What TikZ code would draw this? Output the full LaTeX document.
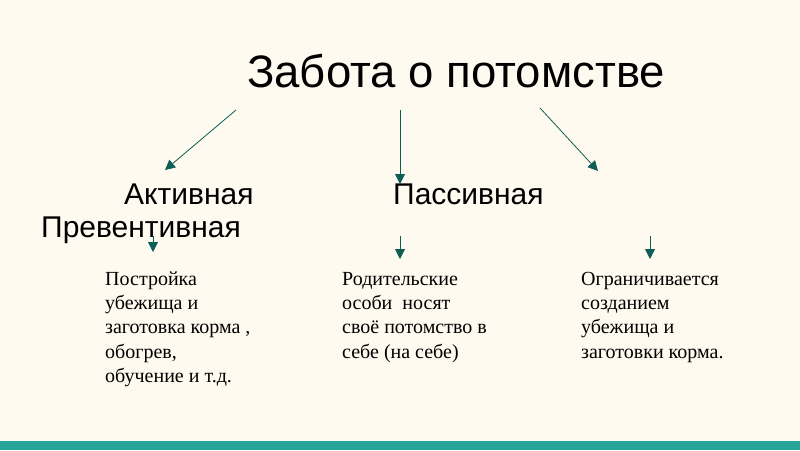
\documentclass[tikz,border=0pt]{standalone}
\usepackage{fontspec}
\setmainfont{Liberation Serif}
\newfontfamily\headfont{Liberation Sans}
\usetikzlibrary{arrows.meta}
\definecolor{cream}{HTML}{FFFAEF}
\definecolor{tealbar}{HTML}{27A599}
\definecolor{arrowgreen}{HTML}{0D5F55}
\tikzset{
	head/.style={anchor=base west, inner sep=0pt, font=\headfont\fontsize{30}{32}\selectfont},
	body/.style={anchor=base west, inner sep=0pt, align=left, font=\fontsize{20}{24.4}\selectfont},
	pointer/.style={color=arrowgreen, line width=0.8pt, -{Triangle[width=10pt,length=10pt]}}
}

\begin{document}
\begin{tikzpicture}[x=1pt, y=-1pt]
	%%%%% START %%%%%
	
	\fill[cream] (0, 0) rectangle (800, 450);
	\useasboundingbox (0, 0) rectangle (800, 450);
	\fill[tealbar] (0, 441) rectangle (800, 450);
	
	\node[head, font=\headfont\fontsize{45.5}{48}\selectfont] (title) at (247, 87) {Забота о потомстве};
	
	\node[head] (active) at (124, 204) {Активная};
	\node[head] (passive) at (393, 204) {Пассивная};
	\node[head] (prevent) at (41, 237) {Превентивная};
	
	% base anchor sits on the last line
	\node[body] (build) at (105, 382.6) {Постройка\\убежища и\\заготовка корма ,\\обогрев,\\обучение и т.д.};
	\node[body] (carry) at (342, 358.2) {Родительские\\особи~ носят\\своё потомство в\\себе (на себе)};
	\node[body] (shelter) at (581, 358.2) {Ограничивается\\созданием\\убежища и\\заготовки корма.};
	
	\coordinate (t1) at (236, 110);
	\coordinate (t2) at (400, 110);
	\coordinate (t3) at (540, 108);
	\coordinate (e1) at (165, 170);
	\coordinate (e2) at (400, 184);
	\coordinate (e3) at (598, 171);
	\draw[pointer] (t1) -- (e1);
	\draw[pointer] (t2) -- (e2);
	\draw[pointer] (t3) -- (e3);
	
	\coordinate (s1) at (153, 236);
	\coordinate (s2) at (400, 236);
	\coordinate (s3) at (650, 236);
	\coordinate (f1) at (153, 252);
	\coordinate (f2) at (400, 259);
	\coordinate (f3) at (650, 259);
	\draw[pointer] (s1) -- (f1);
	\draw[pointer] (s2) -- (f2);
	\draw[pointer] (s3) -- (f3);
	
	%%%%% END %%%%%
\end{tikzpicture}
\end{document}
